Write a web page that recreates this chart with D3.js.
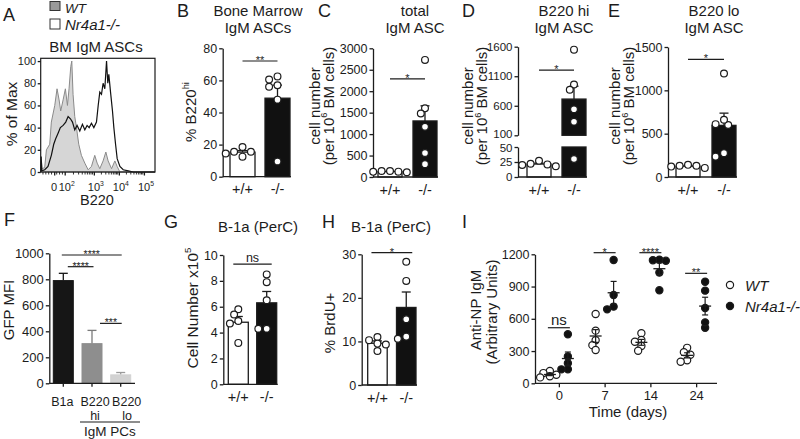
<!DOCTYPE html>
<html><head><meta charset="utf-8">
<script src="https://cdn.jsdelivr.net/npm/d3@7"></script>
<style>
body{margin:0;background:#fff;}
svg{display:block;font-family:'Liberation Sans',Arial,Helvetica,sans-serif;}
</style></head><body>
<svg id="chart" width="800" height="439"></svg>
<script>
// ---------------- DATA ----------------
// Panel A: histogram (channel units 0-1000, % of max)
const aTickChannels = [118, 210, 465, 684, 903];
const aTickLabels = [["0"], ["10","2"], ["10","3"], ["10","4"], ["10","5"]];
const wtChannel = [0,6,12,35,50,79,93,123,143,161,175,196,216,234,248,263,272,283,298,313,333,356,386,415,444,473,494,517,546,570,590,620,649,669,693,1000];
const wtPct     = [0,10,3,4,20,25,45,60,75,65,55,65,75,60,75,95,100,70,50,40,25,15,8,2,5,15,8,3,10,18,10,3,10,5,0,0];
const koChannel = [0,4,10,35,64,93,114,131,152,172,196,219,240,260,278,298,318,342,365,386,406,424,444,465,488,503,517,532,546,561,576,587,596,611,628,640,655,669,693,722,766,810,1000];
const koPct     = [0,14,1,2,5,15,25,30,35,40,42,45,50,48,45,38,42,37,43,38,42,40,44,40,45,60,72,70,80,75,100,80,88,72,55,40,25,12,5,2,1,0,0];
const aYTicks = [0,20,40,60,80,100];

const genoCats = ["+/+", "-/-"];
// Panel B: % B220hi
const bWT = [15.5, 18.5, 15.5, 12.5, 14.5];
const bKO = [60.5, 62.5, 56, 57, 48, 9.5];
const bTicks = [0,20,40,60,80];
// Panel C: total IgM ASC
const cWT = [120, 140, 110, 140, 125];
const cKO = [2730, 1600, 1480, 1170, 560, 300];
const cTicks = [0,500,1000,1500,2000,2500,3000];
// Panel D: B220 hi IgM ASC (broken axis)
const dWT = [22, 20, 18, 21, 27];
const dKO = [1550, 960, 870, 540, 330, 30];
const dTicksUpper = [100,600,1100,1600];
const dTicksLower = [0,25,50];
// Panel E: B220 lo IgM ASC
const eWT = [130, 105, 120, 140, 130];
const eKO = [1195, 610, 600, 660, 235, 275];
const eTicks = [0,500,1000,1500];
// Panel F: GFP MFI
const fCats = ["B1a", "B220 hi", "B220 lo"];
const fMean = [790, 305, 65];
const fSEM  = [56, 102, 18];
const fTicks = [0,200,400,600,800,1000];
// Panel G: cell number x10^5
const gWT = [5.8, 5.4, 4.9, 4.7, 3.2];
const gKO = [8.5, 7.9, 6.5, 4.3, 4.3];
const gTicks = [0,2,4,6,8,10];
// Panel H: % BrdU+
const hWT = [11, 9.5, 10.3, 9.3, 7.8];
const hKO = [28.3, 23.9, 15.1, 10.6, 11.1];
const hTicks = [0,10,20,30];
// Panel I: anti-NP IgM over time
const iDays = ["0", "7", "14", "24"];
const iWT = [[115,95,80,65,55],[645,490,400,355,310],[465,403,387,347,303],[330,290,265,215,200]];
const iKO = [[456,250,186,130,130],[1147,821,688,713],[1150,1140,1145,1030,865],[945,862,700,517,567]];
const iSig = ["ns", "*", "****", "**"];
const iSigVal = [517, 1215, 1215, 1023];
const iTicks = [0,300,600,900,1200];

// ---------------- HELPERS ----------------
const FONT = "'Liberation Sans', Arial, Helvetica, sans-serif";
const INK = "#1c1c1c";
const svg = d3.select("#chart");
svg.append("rect").attr("width",800).attr("height",439).attr("fill","#fff");

function segs(t, str, fs) {
  if (typeof str === "string") { t.text(str); return; }
  let cur = 0;
  str.forEach(s => {
    const sp = t.append("tspan").text(s.t);
    const target = s.sup ? -0.42*fs : 0;
    if (target !== cur) sp.attr("dy", target - cur);
    if (s.sup) sp.attr("font-size", fs*0.62);
    cur = target;
  });
}
function text(x, y, str, fs, opt={}) {
  const t = svg.append("text").attr("x",x).attr("y",y).attr("font-size",fs)
    .attr("text-anchor", opt.anchor || "middle").attr("fill", opt.fill || INK);
  if (opt.italic) t.attr("font-style","italic");
  segs(t, str, fs);
  return t;
}
function vtext(cy, bx, str, fs) {
  const t = svg.append("text").attr("transform",`translate(${bx},${cy}) rotate(-90)`)
    .attr("text-anchor","middle").attr("font-size",fs).attr("fill",INK);
  segs(t, str, fs);
  return t;
}
function styleAxis(g, fs) {
  g.attr("font-family", FONT).attr("font-size", fs);
  g.select(".domain").attr("stroke", INK).attr("stroke-width", 1.3);
  g.selectAll(".tick line").attr("stroke", INK).attr("stroke-width", 1.3);
  g.selectAll(".tick text").attr("fill", INK);
}
function yAxis(scale, x, ticks, fs) {
  const g = svg.append("g").attr("transform",`translate(${x},0)`)
    .call(d3.axisLeft(scale).tickValues(ticks).tickSize(3.5).tickSizeOuter(0).tickPadding(2).tickFormat(d3.format("d")));
  styleAxis(g, fs);
  return g;
}
function line(x1,y1,x2,y2,w,c) {
  return svg.append("line").attr("x1",x1).attr("y1",y1).attr("x2",x2).attr("y2",y2)
    .attr("stroke", c || INK).attr("stroke-width", w || 1.3);
}
function swarm(vals, yf, r, tight) {
  const order = vals.map((v,i)=>i).sort((a,b)=>yf(vals[a])-yf(vals[b]));
  const placed = [], off = new Array(vals.length);
  const step = r*(tight ? 0.9 : 1.2), minD = 2*r*(tight ? 0.7 : 0.92);
  order.forEach(i => {
    const y = yf(vals[i]);
    for (let k = 0; k < 30; k++) {
      const o = (k % 2 ? -1 : 1) * Math.ceil(k/2) * step;
      if (placed.every(p => (p.x-o)**2 + (p.y-y)**2 >= minD*minD)) {
        off[i] = o; placed.push({x:o, y:y}); break;
      }
    }
  });
  return off;
}
function stats(v) { return {m: d3.mean(v), se: d3.deviation(v)/Math.sqrt(v.length)}; }
function sigLine(x1, x2, y, label, fs, kind) {
  line(x1, y, x2, y, 1.2);
  const by = kind === "ns" ? y - 2.5 : y + 3;
  text((x1+x2)/2, by, label, fs);
}

// ---------------- PANEL A ----------------
(function(){
  const x = d3.scaleLinear().domain([0,1000]).range([40.7,155]);
  const y = d3.scaleLinear().domain([0,102.5]).range([172,58.3]);
  const area = d3.area().x((d,i)=>x(wtChannel[i])).y0(y(0)).y1((d)=>y(d));
  svg.append("path").attr("d", area(wtPct)).attr("fill","#d6d6d6").attr("stroke","#8a8a8a").attr("stroke-width",1);
  const ln = d3.line().x((d,i)=>x(koChannel[i])).y(d=>y(d));
  svg.append("path").attr("d", ln(koPct)).attr("fill","none").attr("stroke","#111").attr("stroke-width",1.2);
  svg.append("rect").attr("x",40.7).attr("y",58.3).attr("width",114.3).attr("height",113.7)
    .attr("fill","none").attr("stroke",INK).attr("stroke-width",1.2);
  const gy = svg.append("g").attr("transform","translate(40.7,0)")
    .call(d3.axisLeft(y).tickValues(aYTicks).tickSize(3).tickSizeOuter(0).tickPadding(1.5));
  styleAxis(gy, 11); gy.select(".domain").remove();
  const gx = svg.append("g").attr("transform","translate(0,172)")
    .call(d3.axisBottom(x).tickValues(aTickChannels).tickSize(3.5).tickFormat(""));
  styleAxis(gx, 11); gx.select(".domain").remove();
  const minor = [];
  for (let k = 1; k < aTickChannels.length-1; k++) {
    for (let m = 2; m <= 9; m++) minor.push(aTickChannels[k] + (aTickChannels[k+1]-aTickChannels[k])*Math.log10(m));
  }
  [20, 45, 70, 95, 140, 165, 190].forEach(c => minor.push(c));
  minor.forEach(c => line(x(c), 172, x(c), 174.5, 0.9));
  aTickChannels.forEach((c,i) => {
    const lab = aTickLabels[i];
    const parts = lab.length === 1 ? lab[0] : [{t:lab[0]},{t:lab[1],sup:true}];
    text(x(c) + (lab.length>1 ? 2 : 0), 191, parts, 11);
  });
  text(97, 205, "B220", 14.5);
  vtext(114, 16.5, "% of Max", 15.5);
  text(96, 52, "BM IgM ASCs", 15);
  svg.append("rect").attr("x",50).attr("y",1.5).attr("width",10).attr("height",9).attr("fill","#9a9a9a").attr("stroke","#333").attr("stroke-width",1);
  svg.append("rect").attr("x",50).attr("y",19).attr("width",10).attr("height",10).attr("fill","#fff").attr("stroke","#333").attr("stroke-width",1);
  text(65, 12.7, "WT", 13.5, {anchor:"start", italic:true});
  text(65, 29.5, "Nr4a1-/-", 15, {anchor:"start", italic:true});
  text(3, 20.5, "A", 18, {anchor:"start"});
})();

// ---------------- BAR PANELS ----------------
function barPanel(o) {
  const xb = d3.scaleBand().domain(o.cats).range(o.band).paddingInner(o.pad).paddingOuter(0);
  const y0 = o.y(0);
  const bw = xb.bandwidth();
  o.groups.forEach((vals, i) => {
    const c = o.cats[i], s = stats(vals), bx = xb(c), cx = bx + bw/2;
    line(cx, o.y(s.m), cx, o.y(s.m + s.se));
    line(cx-4.5, o.y(s.m + s.se), cx+4.5, o.y(s.m + s.se));
    svg.append("rect").attr("x",bx).attr("y",o.y(s.m)).attr("width",bw).attr("height",y0-o.y(s.m))
      .attr("fill",o.fills[i]).attr("stroke",INK).attr("stroke-width",1.3);
  });
  yAxis(o.y, o.x0, o.ticks, o.tickFs || 12.5);
  line(o.x0, y0, o.band[1]+1, y0);
  o.groups.forEach((vals, i) => {
    const cx = xb(o.cats[i]) + bw/2;
    const off = swarm(vals, o.y, 3.5);
    vals.forEach((v,j) => svg.append("circle").attr("cx",cx+off[j]).attr("cy",o.y(v)).attr("r",3.4)
      .attr("fill","#fff").attr("stroke",INK).attr("stroke-width",1.2));
    text(cx, y0 + 17.5, o.cats[i], 14.5);
  });
  const e = o.ext || 0;
  const sx1 = xb(o.cats[0]) + bw/2 - e, sx2 = xb(o.cats[1]) + bw/2 + e;
  sigLine(sx1, sx2, o.y(o.sigV), o.sig, o.sigFs || 11, o.sig === "ns" ? "ns" : "");
}

// B
barPanel({x0:222.7, y:d3.scaleLinear().domain([0,80]).range([176.7,48.3]), ticks:bTicks,
  band:[230,290], pad:0.2857, cats:genoCats, groups:[bWT,bKO], fills:["#fff","#111"], sig:"**", sigV:72.1});
text(177, 16.5, "B", 18, {anchor:"start"});
text(258, 15.7, "Bone Marrow", 15);
text(258, 33.3, "IgM ASCs", 15);
vtext(112, 195.5, [{t:"% B220"},{t:"hi",sup:true}], 15);

// C
barPanel({x0:373, y:d3.scaleLinear().domain([0,3000]).range([177,48.3]), ticks:cTicks,
  band:[378,437], pad:0.314, cats:genoCats, groups:[cWT,cKO], fills:["#fff","#111"], sig:"*", sigV:2286});
text(318, 16.5, "C", 18, {anchor:"start"});
text(415, 15.5, "total", 15);
text(415, 33.3, "IgM ASC", 15);
vtext(106, 319.5, "cell number", 15);
vtext(106, 333.5, [{t:"(per 10"},{t:"6",sup:true},{t:" BM cells)"}], 15);

// D (broken axis)
(function(){
  const up = d3.scaleLinear().domain([100,1600]).range([135.3,46.7]);
  const lo = d3.scaleLinear().domain([0,50]).range([177,147]);
  const yf = v => v >= 100 ? up(v) : lo(Math.min(v,50));
  const xb = d3.scaleBand().domain(genoCats).range([527,586]).paddingInner(0.314).paddingOuter(0);
  const bw = xb.bandwidth();
  const sW = stats(dWT), sK = stats(dKO);
  const cW = xb("+/+") + bw/2, cK = xb("-/-") + bw/2;
  line(cW, lo(sW.m), cW, lo(sW.m+sW.se)); line(cW-4.5, lo(sW.m+sW.se), cW+4.5, lo(sW.m+sW.se));
  svg.append("rect").attr("x",xb("+/+")).attr("y",lo(sW.m)).attr("width",bw).attr("height",lo(0)-lo(sW.m))
    .attr("fill","#fff").attr("stroke",INK).attr("stroke-width",1.3);
  line(cK, up(sK.m), cK, up(sK.m+sK.se)); line(cK-4.5, up(sK.m+sK.se), cK+4.5, up(sK.m+sK.se));
  svg.append("rect").attr("x",xb("-/-")).attr("y",up(sK.m)).attr("width",bw).attr("height",up(100)-up(sK.m))
    .attr("fill","#111").attr("stroke",INK).attr("stroke-width",1.3);
  svg.append("rect").attr("x",xb("-/-")).attr("y",lo(50)).attr("width",bw).attr("height",lo(0)-lo(50))
    .attr("fill","#111").attr("stroke",INK).attr("stroke-width",1.3);
  const gu = yAxis(up, 518, dTicksUpper, 11.5);
  const gl = yAxis(lo, 518, dTicksLower, 11.5);
  gu.selectAll(".tick text").filter(d => d === 100).attr("y", -1);
  gl.selectAll(".tick text").filter(d => d === 50).attr("y", 1);
  line(518, lo(0), 587, lo(0));
  [[dWT,cW],[dKO,cK]].forEach(([vals,cx],i) => {
    const off = swarm(vals, yf, 3.5);
    vals.forEach((v,j) => svg.append("circle").attr("cx",cx+off[j]).attr("cy",yf(v)).attr("r",3.4)
      .attr("fill","#fff").attr("stroke",INK).attr("stroke-width",1.2));
    text(cx, lo(0)+17.5, genoCats[i], 14.5);
  });
  sigLine(cW, cK, up(1205), "*", 11, "");
})();
text(462, 16.5, "D", 18, {anchor:"start"});
text(564, 15.5, "B220 hi", 15);
text(564, 33.3, "IgM ASC", 15);
vtext(106, 472.5, "cell number", 15);
vtext(106, 487, [{t:"(per 10"},{t:"6",sup:true},{t:" BM cells)"}], 15);

// E
barPanel({x0:668, y:d3.scaleLinear().domain([0,1500]).range([177,47]), ticks:eTicks,
  band:[676,736], pad:0.333, cats:genoCats, groups:[eWT,eKO], fills:["#fff","#111"], sig:"*", sigV:1358});
text(608, 16.5, "E", 18, {anchor:"start"});
text(714, 15.5, "B220 lo", 15);
text(714, 33.3, "IgM ASC", 15);
vtext(106, 620, "cell number", 15);
vtext(106, 634, [{t:"(per 10"},{t:"6",sup:true},{t:" BM cells)"}], 15);

// ---------------- PANEL F ----------------
(function(){
  const y = d3.scaleLinear().domain([0,1000]).range([383.3,253.3]);
  const xb = d3.scaleBand().domain(fCats).range([53.3,130.7]).paddingInner(0.303).paddingOuter(0);
  const bw = xb.bandwidth();
  const fills = ["#161616","#8e8e8e","#d2d2d2"];
  const errc = ["#161616","#7a7a7a","#9a9a9a"];
  fCats.forEach((c,i) => {
    const cx = xb(c) + bw/2;
    line(cx, y(fMean[i]), cx, y(fMean[i]+fSEM[i]), 1.3, errc[i]);
    line(cx-4.5, y(fMean[i]+fSEM[i]), cx+4.5, y(fMean[i]+fSEM[i]), 1.3, errc[i]);
    svg.append("rect").attr("x",xb(c)).attr("y",y(fMean[i])).attr("width",bw).attr("height",y(0)-y(fMean[i]))
      .attr("fill",fills[i]).attr("stroke",fills[i]).attr("stroke-width",1);
  });
  yAxis(y, 49.3, fTicks, 13);
  line(49.3, y(0), 135, y(0));
  fCats.forEach(c => line(xb(c)+bw/2, y(0), xb(c)+bw/2, y(0)+3.5));
  const cx = c => xb(c) + bw/2;
  sigLine(cx("B1a")-1.5, cx("B220 lo")+1, y(987), "****", 10.5, "");
  sigLine(cx("B1a")+4.5, cx("B220 hi")+1.5, y(897), "****", 10.5, "");
  sigLine(cx("B220 hi")+8, cx("B220 lo")+1, y(461), "***", 10.5, "");
  text(cx("B1a")-1, 405.5, "B1a", 12.5);
  text(cx("B220 hi")+3, 405.5, "B220", 12.5);
  text(cx("B220 lo")+6, 405.5, "B220", 12.5);
  text(cx("B220 hi")+3, 420, "hi", 12.5);
  text(cx("B220 lo")+6.5, 420, "lo", 12.5);
  line(80, 422, 140, 422, 1.1);
  text(110, 435.5, "IgM PCs", 13.5);
  vtext(310, 13.5, "GFP MFI", 15);
  text(4, 226, "F", 18, {anchor:"start"});
})();

// ---------------- PANEL G ----------------
barPanel({x0:223.3, y:d3.scaleLinear().domain([0,10]).range([384.3,255]), ticks:gTicks,
  band:[228.3,276.7], pad:0.296, cats:genoCats, groups:[gWT,gKO], fills:["#fff","#111"], sig:"ns", sigV:9.3, sigFs:12.5, ext:5});
text(164, 228, "G", 18, {anchor:"start"});
text(258, 232, "B-1a (PerC)", 15);
vtext(308, 197.5, [{t:"Cell Number x10"},{t:"5",sup:true}], 15.5);

// ---------------- PANEL H ----------------
barPanel({x0:361.7, y:d3.scaleLinear().domain([0,30]).range([385,254.3]), ticks:hTicks,
  band:[367.7,416], pad:0.323, cats:genoCats, groups:[hWT,hKO], fills:["#fff","#111"], sig:"*", sigV:30.4, ext:6});
text(322, 228, "H", 18, {anchor:"start"});
text(391, 232, "B-1a (PerC)", 15);
vtext(323, 334.5, "% BrdU+", 15);

// ---------------- PANEL I ----------------
(function(){
  const y = d3.scaleLinear().domain([0,1200]).range([383.3,254.3]);
  const x = d3.scalePoint().domain(iDays).range([536,719]).padding(0.5);
  const sub = d3.scalePoint().domain(["WT","KO"]).range([-9,9]);
  yAxis(y, 535, iTicks, 12.5);
  const gx = svg.append("g").attr("transform",`translate(0,${y(0)})`)
    .call(d3.axisBottom(x).tickSize(4).tickSizeOuter(0).tickPadding(3));
  styleAxis(gx, 13); gx.select(".domain").remove();
  line(535, y(0), 717, y(0));
  iDays.forEach((d,i) => {
    [["WT", iWT[i], "#fff"], ["KO", iKO[i], "#111"]].forEach(([g, vals, fill]) => {
      const cx = x(d) + sub(g);
      const off = swarm(vals, y, 3.6, true);
      vals.forEach((v,j) => svg.append("circle").attr("cx",cx+off[j]).attr("cy",y(v)).attr("r",3.6)
        .attr("fill",fill).attr("stroke",INK).attr("stroke-width",1.2));
      const s = stats(vals);
      line(cx, y(s.m - s.se), cx, y(s.m + s.se), 1.2);
      line(cx-3, y(s.m + s.se), cx+3, y(s.m + s.se), 1.2);
      line(cx-3, y(s.m - s.se), cx+3, y(s.m - s.se), 1.2);
      line(cx-6, y(s.m), cx+6, y(s.m), 1.3);
    });
    const lab = iSig[i];
    sigLine(x(d)-11, x(d)+11, y(iSigVal[i]), lab, lab === "ns" ? 15 : 11, lab === "ns" ? "ns" : "");
  });
  text(628, 417, "Time (days)", 15);
  vtext(310, 480.5, "Anti-NP IgM", 15);
  vtext(312, 497, "(Arbitrary Units)", 15);
  text(462, 228, "I", 18, {anchor:"start"});
  svg.append("circle").attr("cx",730).attr("cy",285).attr("r",3.6).attr("fill","#fff").attr("stroke",INK).attr("stroke-width",1.2);
  svg.append("circle").attr("cx",730).attr("cy",306).attr("r",3.6).attr("fill","#111").attr("stroke",INK).attr("stroke-width",1.2);
  text(745, 290.5, "WT", 15, {anchor:"start", italic:true});
  text(745, 311.5, "Nr4a1-/-", 15, {anchor:"start", italic:true});
})();
</script>
</body></html>
